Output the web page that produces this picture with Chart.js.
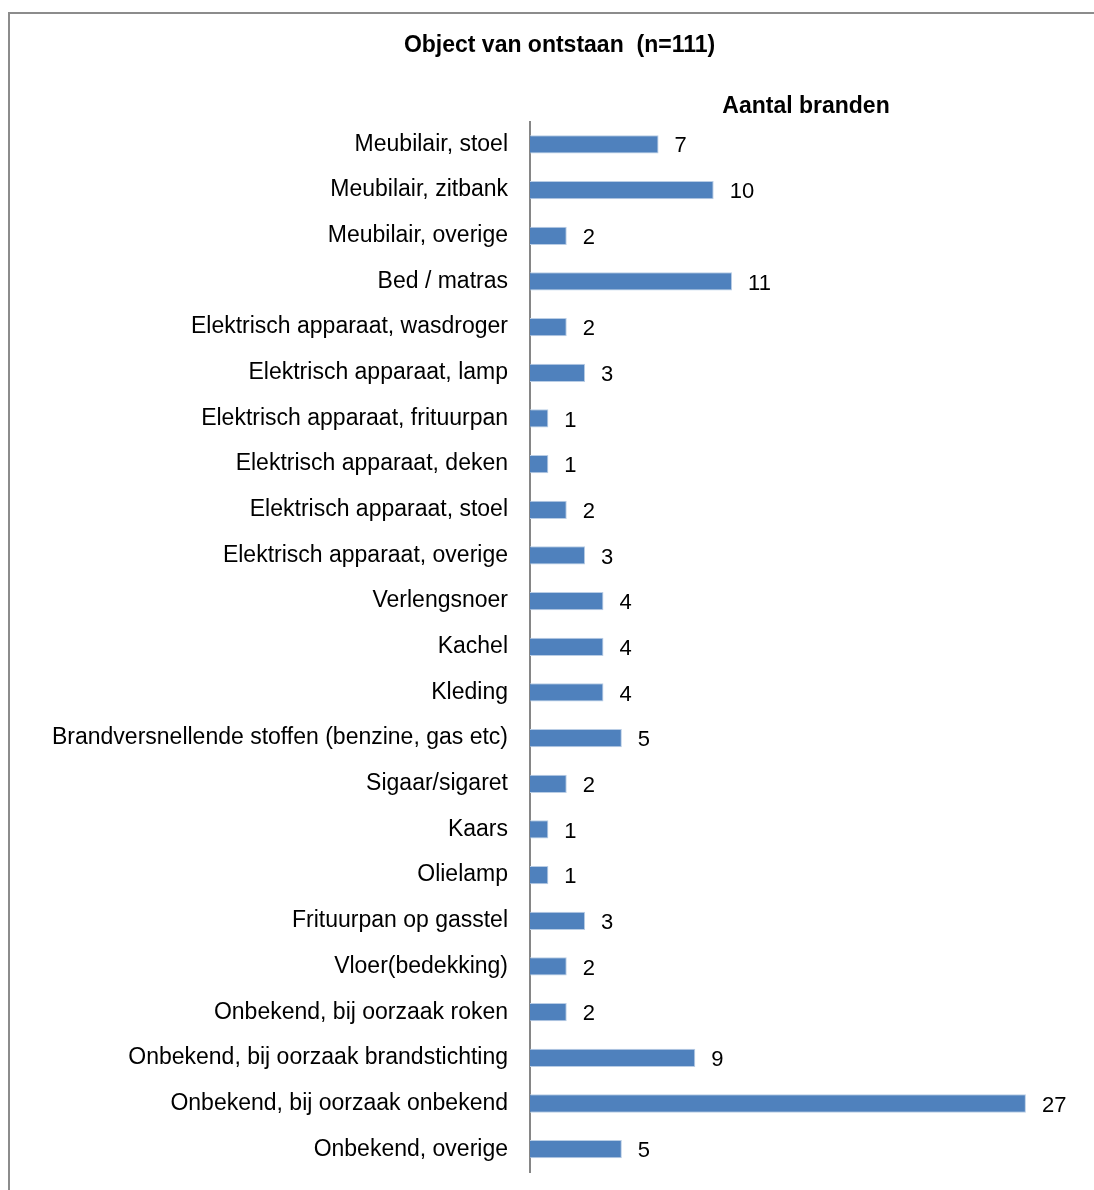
<!DOCTYPE html>
<html>
<head>
<meta charset="utf-8">
<script src="https://cdn.jsdelivr.net/npm/chart.js@4.4.0/dist/chart.umd.min.js"></script>
<style>
body { margin: 0; background: #fff; }
#wrap { position: relative; width: 1094px; height: 1190px; }
#frame { position: absolute; left: 8px; top: 12px; right: 0; bottom: 0; border-left: 2px solid #8c8c8c; border-top: 2px solid #8c8c8c; }
canvas { position: absolute; left: 0; top: 0; }
</style>
</head>
<body>
<div id="wrap">
<div id="frame"></div>
<canvas id="Chart" width="1094" height="1190"></canvas>
</div>
<script>
let categories = [
	"Meubilair, stoel",
	"Meubilair, zitbank",
	"Meubilair, overige",
	"Bed / matras",
	"Elektrisch apparaat, wasdroger",
	"Elektrisch apparaat, lamp",
	"Elektrisch apparaat, frituurpan",
	"Elektrisch apparaat, deken",
	"Elektrisch apparaat, stoel",
	"Elektrisch apparaat, overige",
	"Verlengsnoer",
	"Kachel",
	"Kleding",
	"Brandversnellende stoffen (benzine, gas etc)",
	"Sigaar/sigaret",
	"Kaars",
	"Olielamp",
	"Frituurpan op gasstel",
	"Vloer(bedekking)",
	"Onbekend, bij oorzaak roken",
	"Onbekend, bij oorzaak brandstichting",
	"Onbekend, bij oorzaak onbekend",
	"Onbekend, overige"
]
let aantal = [7, 10, 2, 11, 2, 3, 1, 1, 2, 3, 4, 4, 4, 5, 2, 1, 1, 3, 2, 2, 9, 27, 5]
let seriesName = "Aantal branden"
let titleText = "Object van ontstaan  (n=111)"

let fam = "'Liberation Sans', Arial, sans-serif"

// draws the value next to each bar and the series name above the bars
let extras = {
	id: "extras",
	afterDatasetsDraw(chart){
		let ctx = chart.ctx
		let meta = chart.getDatasetMeta(0)
		ctx.save()
		ctx.font = "22px " + fam
		ctx.fillStyle = "#000"
		ctx.textAlign = "left"
		ctx.textBaseline = "middle"
		meta.data.forEach(function(bar, i){
			ctx.fillText(aantal[i], bar.x + 16, bar.y + 2)
		})
		ctx.font = "bold 23px " + fam
		ctx.textAlign = "center"
		ctx.fillText(seriesName, 806, 107)
		ctx.restore()
	}
}

new Chart("Chart", {
	type: "bar",
	data: {
		labels: categories,
		datasets: [
			{label: seriesName,
			backgroundColor: "#4F81BD",
			borderColor: "#B9CDE5",
			borderWidth: 1,
			categoryPercentage: 1,
			barPercentage: 0.4,
			data: aantal}
		]
	},
	options: {
		indexAxis: "y",
		responsive: false,
		animation: false,
		layout: {padding: {top: 0, right: 13, bottom: 18, left: 38}},
		plugins: {
			legend: {display: false},
			tooltip: {enabled: false},
			title: {
				display: true,
				text: titleText,
				color: "#000",
				font: {family: fam, size: 23, weight: "bold"},
				padding: {top: 32, bottom: 62}
			}
		},
		scales: {
			x: {
				display: false,
				min: 0,
				max: 30
			},
			y: {
				afterFit(scale){ scale.width = 492 },
				grid: {display: false, drawTicks: true, tickLength: 22},
				border: {display: true, color: "#868686", width: 2},
				ticks: {
					color: "#000",
					padding: 0,
					font: {family: fam, size: 23}
				}
			}
		}
	},
	plugins: [extras]
})
</script>
</body>
</html>
